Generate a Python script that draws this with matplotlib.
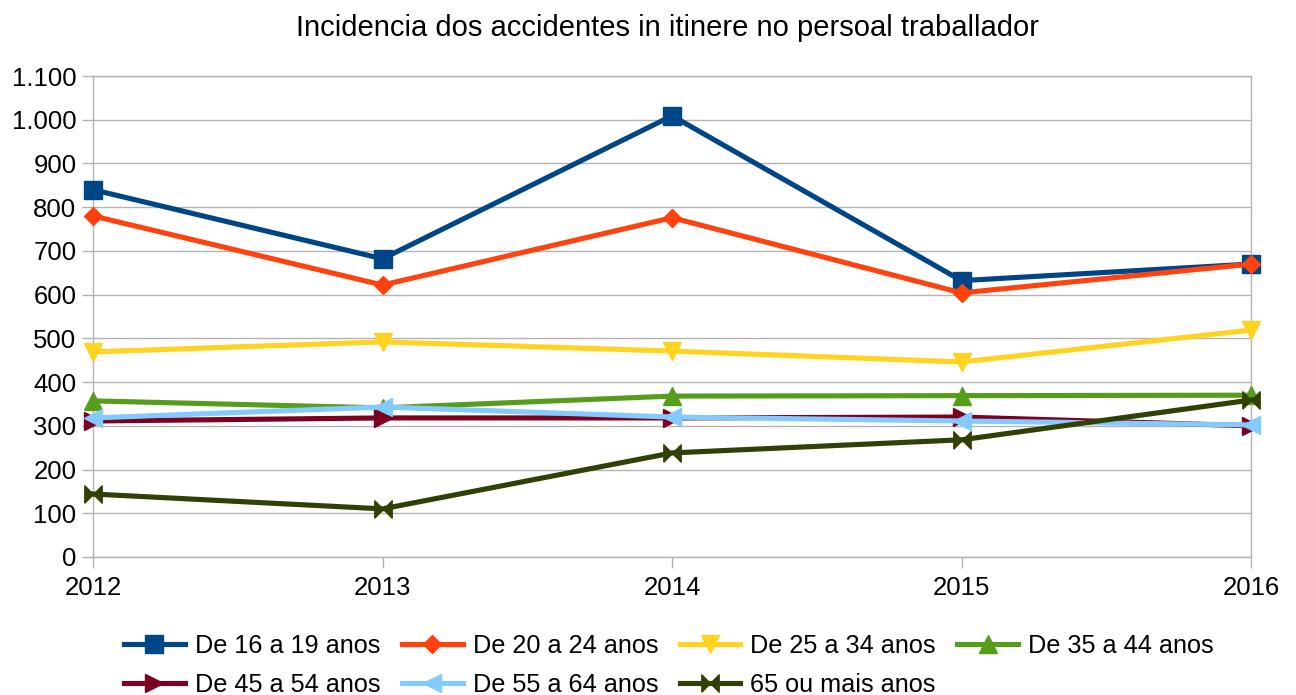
import matplotlib
matplotlib.use("Agg")
import matplotlib.pyplot as plt
from matplotlib.path import Path
from matplotlib.ticker import FuncFormatter

anos = [2012, 2013, 2014, 2015, 2016]

series_nomes = [
    "De 16 a 19 anos",
    "De 20 a 24 anos",
    "De 25 a 34 anos",
    "De 35 a 44 anos",
    "De 45 a 54 anos",
    "De 55 a 64 anos",
    "65 ou mais anos",
]

v_16_19 = [840, 682, 1009, 632, 670]
v_20_24 = [780, 622, 776, 604, 670]
v_25_34 = [469, 492, 471, 446, 519]
v_35_44 = [357, 341, 368, 369, 370]
v_45_54 = [311, 318, 318, 320, 300]
v_55_64 = [318, 343, 320, 311, 302]
v_65_mais = [144, 110, 238, 268, 359]

valores = [v_16_19, v_20_24, v_25_34, v_35_44, v_45_54, v_55_64, v_65_mais]

cores = ["#004586", "#ff420e", "#ffd320", "#579d1c", "#7e0021", "#83caff", "#314004"]

# marcador tipo laço para a ultima serie
lazo = Path([(-1, -1), (-1, 1), (0, 0), (1, 1), (1, -1), (0, 0), (-1, -1)])
marcadores = ["s", "D", "v", "^", ">", "<", lazo]
tamanhos = [12.5, 9.5, 12.5, 12.5, 12.5, 12.5, 12.5]

plt.rcParams["font.family"] = ["Liberation Sans", "DejaVu Sans"]

fig = plt.figure(figsize=(12.96, 6.95), dpi=100)
ax = fig.add_axes([0.0718, 0.1986, 0.8935, 0.692])

linhas = []
for nome, vals, cor, mk, ms in zip(series_nomes, valores, cores, marcadores, tamanhos):
    l, = ax.plot(anos, vals, color=cor, lw=3.7, marker=mk, markersize=ms,
                 label=nome, clip_on=False, zorder=3)
    linhas.append(l)

ax.set_xlim(2012, 2016)
ax.set_ylim(0, 1100)
ax.set_xticks(anos)
ax.set_yticks(range(0, 1101, 100))


def milhares(x, pos):
    return f"{int(x):,}".replace(",", ".")


ax.yaxis.set_major_formatter(FuncFormatter(milhares))
ax.grid(axis="y", color="#b3b3b3", lw=1)
ax.set_axisbelow(True)
for s in ax.spines.values():
    s.set_color("#b3b3b3")
    s.set_linewidth(1)
ax.tick_params(axis="both", colors="#b3b3b3", labelcolor="black", labelsize=18.5,
               length=8, width=1)
ax.tick_params(axis="x", pad=6)
ax.tick_params(axis="y", pad=4)

ax.set_title("Incidencia dos accidentes in itinere no persoal traballador",
             fontsize=21, pad=29, x=0.496)

# ordem para que a lenda se leia por linhas
ordem = [0, 4, 1, 5, 2, 6, 3]
fig.legend([linhas[i] for i in ordem], [series_nomes[i] for i in ordem],
           loc="lower left", bbox_to_anchor=(0.088, -0.017), ncol=4, frameon=False,
           fontsize=18.2, handlelength=2.4, handletextpad=0.4, columnspacing=0.85,
           labelspacing=0.6, borderaxespad=0)

fig.savefig("out.png", dpi=100)
